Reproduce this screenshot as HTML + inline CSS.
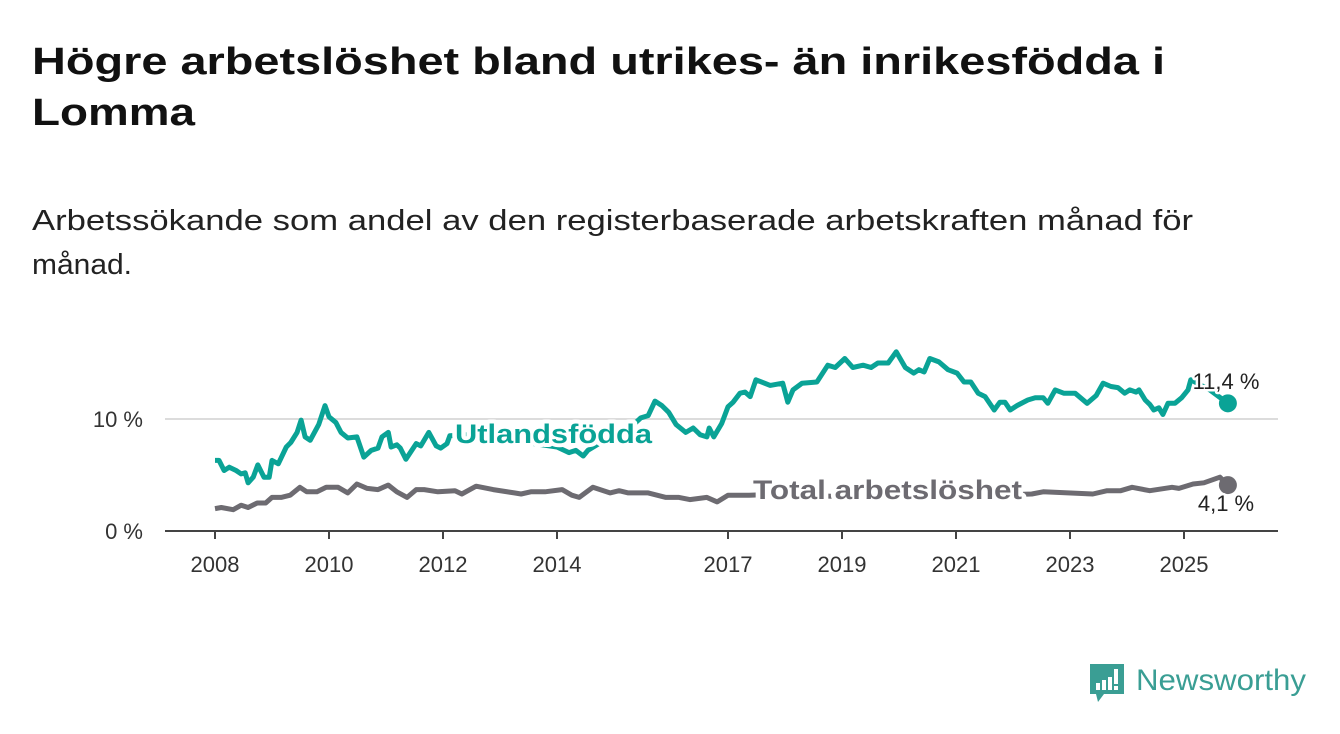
<!DOCTYPE html>
<html><head><meta charset="utf-8">
<style>
html,body{margin:0;padding:0;background:#fff;}
svg{display:block;font-family:"Liberation Sans",sans-serif;}
</style></head>
<body>
<svg id="chart" width="1340" height="734" viewBox="0 0 1340 734">
<text x="32" y="74" font-size="38" font-weight="bold" fill="#111" textLength="1133" lengthAdjust="spacingAndGlyphs">Högre arbetslöshet bland utrikes- än inrikesfödda i</text>
<text x="32" y="125" font-size="38" font-weight="bold" fill="#111" textLength="163" lengthAdjust="spacingAndGlyphs">Lomma</text>
<text x="32" y="230" font-size="29" fill="#222" textLength="1161" lengthAdjust="spacingAndGlyphs">Arbetssökande som andel av den registerbaserade arbetskraften månad för</text>
<text x="32" y="274" font-size="29" fill="#222" textLength="100" lengthAdjust="spacingAndGlyphs">månad.</text>
<g id="plot"></g>
<g>
<path d="M1090 664 h34 v30 h-20 l-6 8 l-2 -8 h-6 z" fill="#3a9e94"/>
<rect x="1096" y="683" width="4" height="7" fill="#fff"/>
<rect x="1102" y="680" width="4" height="10" fill="#fff"/>
<rect x="1108" y="677" width="4" height="13" fill="#fff"/>
<rect x="1114" y="669" width="4" height="15" fill="#fff"/>
<rect x="1114" y="686" width="4" height="4" fill="#fff"/>
<text x="1136" y="690" font-size="30" fill="#3a9e94" textLength="170" lengthAdjust="spacingAndGlyphs">Newsworthy</text>
</g>
</svg>
<script>
const utYears=[2008.0,2008.07,2008.16,2008.25,2008.37,2008.46,2008.53,2008.58,2008.67,2008.75,2008.86,2008.95,2009.0,2009.11,2009.25,2009.33,2009.44,2009.51,2009.58,2009.67,2009.82,2009.93,2010.0,2010.12,2010.21,2010.33,2010.49,2010.61,2010.74,2010.86,2010.93,2011.04,2011.09,2011.19,2011.25,2011.35,2011.53,2011.61,2011.75,2011.88,2011.96,2012.07,2012.12,2012.4,2012.8,2013.2,2013.6,2014.0,2014.21,2014.33,2014.46,2014.54,2014.9,2015.3,2015.47,2015.6,2015.72,2015.84,2015.96,2016.09,2016.26,2016.39,2016.51,2016.63,2016.67,2016.75,2016.89,2017.0,2017.09,2017.21,2017.3,2017.39,2017.49,2017.74,2017.96,2018.05,2018.14,2018.3,2018.56,2018.75,2018.88,2019.05,2019.19,2019.37,2019.51,2019.63,2019.81,2019.95,2020.11,2020.26,2020.35,2020.44,2020.54,2020.7,2020.86,2021.02,2021.14,2021.26,2021.39,2021.51,2021.67,2021.77,2021.86,2021.95,2022.07,2022.26,2022.39,2022.53,2022.61,2022.74,2022.89,2023.09,2023.3,2023.46,2023.58,2023.72,2023.84,2023.96,2024.05,2024.16,2024.21,2024.32,2024.4,2024.47,2024.56,2024.63,2024.72,2024.84,2024.96,2025.07,2025.12,2025.45,2025.77];
const utValues=[6.3,6.3,5.4,5.7,5.4,5.1,5.2,4.3,4.8,5.9,4.8,4.8,6.3,6.0,7.5,7.9,8.8,9.9,8.4,8.1,9.5,11.2,10.2,9.7,8.8,8.3,8.4,6.6,7.2,7.4,8.4,8.8,7.5,7.7,7.4,6.4,7.8,7.6,8.8,7.6,7.4,7.8,8.5,8.6,8.3,8.0,7.8,7.5,7.0,7.2,6.7,7.2,8.3,9.3,10.1,10.3,11.6,11.2,10.6,9.5,8.8,9.2,8.6,8.4,9.2,8.4,9.6,11.1,11.5,12.3,12.4,12.0,13.5,13.0,13.2,11.5,12.6,13.2,13.3,14.8,14.6,15.4,14.6,14.8,14.6,15.0,15.0,16.0,14.6,14.1,14.4,14.2,15.4,15.1,14.4,14.1,13.3,13.3,12.3,12.0,10.8,11.5,11.5,10.8,11.2,11.7,11.9,11.9,11.4,12.6,12.3,12.3,11.4,12.1,13.2,12.9,12.8,12.3,12.6,12.4,12.6,11.7,11.3,10.8,11.0,10.4,11.4,11.4,11.9,12.6,13.5,12.6,11.4];
const totYears=[2008.0,2008.11,2008.32,2008.46,2008.58,2008.74,2008.89,2009.0,2009.16,2009.32,2009.49,2009.61,2009.79,2009.95,2010.16,2010.33,2010.49,2010.67,2010.86,2011.04,2011.19,2011.37,2011.53,2011.67,2011.91,2012.21,2012.33,2012.58,2012.88,2013.25,2013.37,2013.54,2013.79,2014.09,2014.26,2014.39,2014.63,2014.93,2015.09,2015.25,2015.6,2015.91,2016.14,2016.33,2016.63,2016.81,2017.0,2017.21,2017.37,2018.0,2018.8,2019.5,2020.3,2021.0,2021.7,2022.33,2022.53,2023.4,2023.65,2023.89,2024.09,2024.4,2024.79,2024.91,2025.16,2025.35,2025.63,2025.77];
const totValues=[2.0,2.1,1.9,2.3,2.1,2.5,2.5,3.0,3.0,3.2,3.9,3.5,3.5,3.9,3.9,3.4,4.2,3.8,3.7,4.1,3.5,3.0,3.7,3.7,3.5,3.6,3.3,4.0,3.7,3.4,3.3,3.5,3.5,3.7,3.2,3.0,3.9,3.4,3.6,3.4,3.4,3.0,3.0,2.8,3.0,2.6,3.2,3.2,3.2,3.3,3.1,3.2,3.5,3.4,3.2,3.3,3.5,3.3,3.6,3.6,3.9,3.6,3.9,3.8,4.2,4.3,4.8,4.1];
const xTickYears=[2008,2010,2012,2014,2017,2019,2021,2023,2025];
const yTickValues=[0,10];
const yTickLabels=["0 %","10 %"];
const lastLabels=["11,4 %","4,1 %"];

const NS="http://www.w3.org/2000/svg";
const plot=document.getElementById('plot');
const xS=y=>215+(y-2008)*57;
const yS=v=>531-v*11.2;
function mk(tag,attrs,parent){const e=document.createElementNS(NS,tag);for(const k in attrs)e.setAttribute(k,attrs[k]);(parent||plot).appendChild(e);return e;}

yTickValues.forEach((v,i)=>{
  if(v>0){const g=mk('line',{x1:165,x2:1278,y1:yS(v),y2:yS(v),stroke:'#dcdcdc','stroke-width':2});
  
  }
  const t=mk('text',{x:143,y:yS(v)+8,'font-size':22,fill:'#333','text-anchor':'end'});
  t.textContent=yTickLabels[i];
  
  
});
const ax=mk('line',{x1:165,x2:1278,y1:531,y2:531,stroke:'#444','stroke-width':2});


xTickYears.forEach(yr=>{
  const tk=mk('line',{x1:xS(yr),x2:xS(yr),y1:531,y2:539,stroke:'#444','stroke-width':2});
  
  
  const t=mk('text',{x:xS(yr),y:572,'font-size':22,fill:'#333','text-anchor':'middle'});
  t.textContent=String(yr);
  
  
});
function line(xs,vs,color,name){
  const d=xs.map((x,i)=>(i?'L':'M')+xS(x).toFixed(1)+' '+yS(vs[i]).toFixed(1)).join(' ');
  const p=mk('path',{d:d,fill:'none',stroke:color,'stroke-width':5,'stroke-linejoin':'round'});
  
  
  const n=xs.length-1;
  const c=mk('circle',{cx:xS(xs[n]),cy:yS(vs[n]),r:9,fill:color});
  
  
}
line(totYears,totValues,'#6d6b71','total-line');
line(utYears,utValues,'#0aa396','utlandsfodda-line');
function lbl(x,y,txt,color,size,bold,anchor,name,len){
  const a={x:x,y:y,'font-size':size,fill:color,'font-weight':bold?'bold':'normal','text-anchor':anchor,stroke:'#fff','stroke-width':bold?8:5,'paint-order':'stroke','stroke-linejoin':'round'};
  if(len){a.textLength=len;a.lengthAdjust='spacingAndGlyphs';}
  const t=mk('text',a);
  t.textContent=txt;
  
  
}
lbl(455,443,'Utlandsfödda','#0aa396',27,true,'start','utlandsfodda-label',197);
lbl(753,499,'Total arbetslöshet','#6d6b71',27,true,'start','total-label',269);
lbl(1226,389,lastLabels[0],'#222',22,false,'middle','utlandsfodda-value-label');
lbl(1226,511,lastLabels[1],'#222',22,false,'middle','total-value-label');
</script>
</body></html>
